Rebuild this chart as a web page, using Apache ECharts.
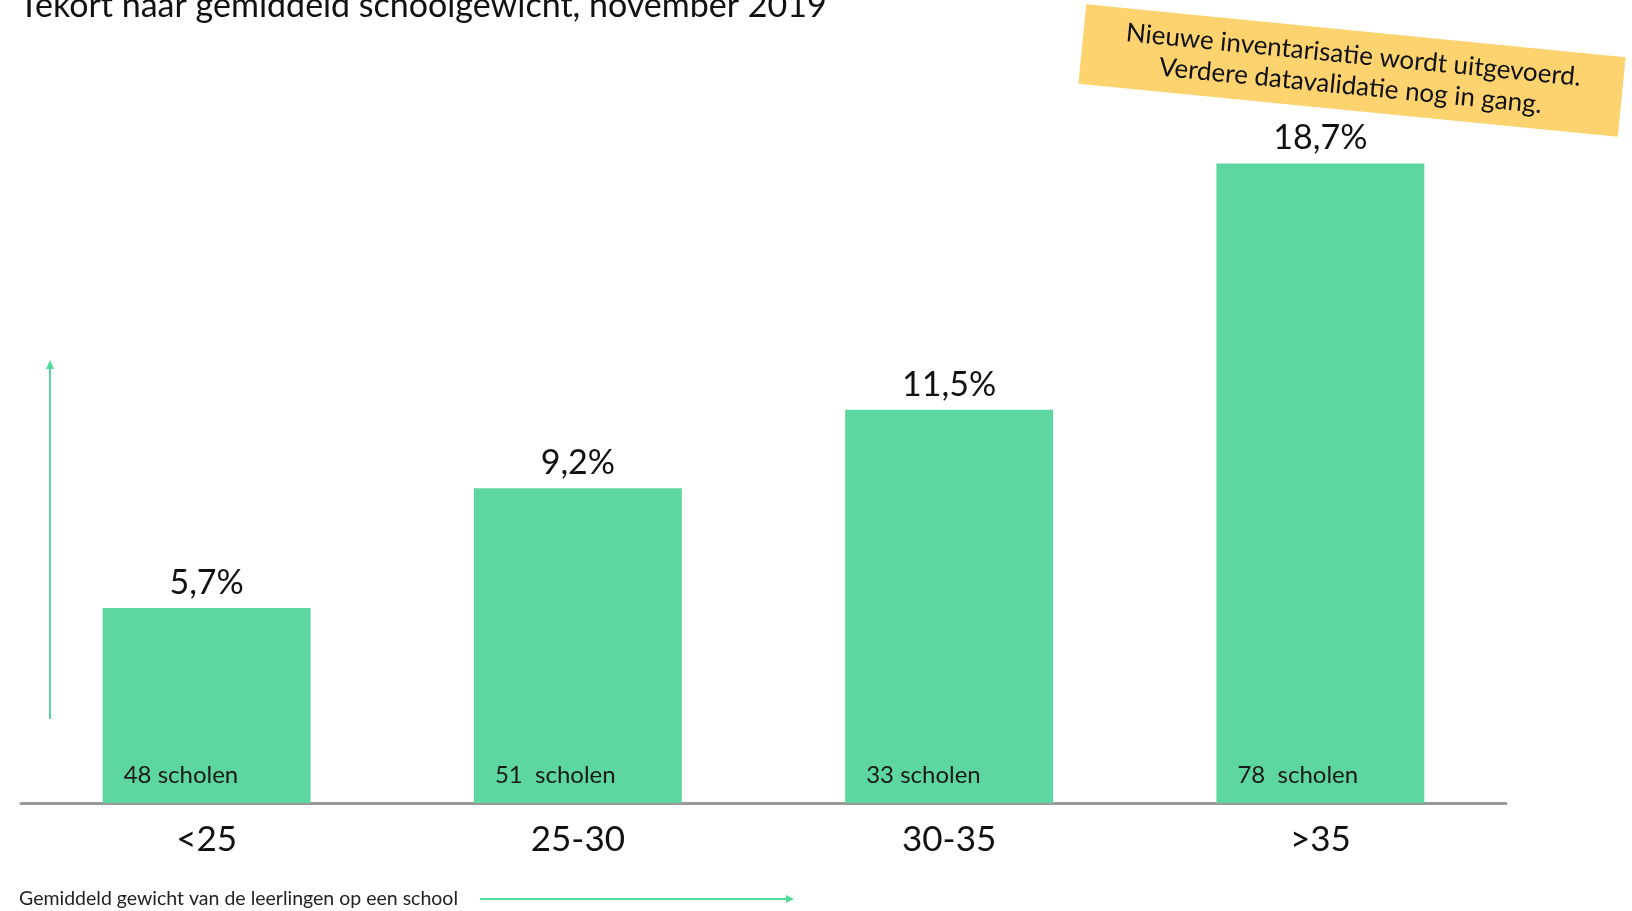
<!DOCTYPE html>
<html>
<head>
<meta charset="utf-8">
<script src="https://cdn.jsdelivr.net/npm/echarts@6/dist/echarts.min.js"></script>
<style>
html,body{margin:0;padding:0;background:#fff;}
#c{width:1632px;height:911px;}
</style>
</head>
<body>
<div id="c"></div>
<script>
var categories = ['<25', '25-30', '30-35', '>35'];
var shortagePct = [5.7, 9.2, 11.5, 18.7];
var schoolLabels = ['48 scholen', '51  scholen', '33 scholen', '78  scholen'];
var titleText = 'Tekort naar gemiddeld schoolgewicht, november 2019';
var noteLines = ['Nieuwe inventarisatie wordt uitgevoerd.', 'Verdere datavalidatie nog in gang.'];
var xAxisTitle = 'Gemiddeld gewicht van de leerlingen op een school';

var FONT = 'Lato, "Open Sans", sans-serif';
var GREEN = '#5dd79f';
var ARROW = '#4fdc9b';

var chart = echarts.init(document.getElementById('c'));
chart.setOption({
  animation: false,
  grid: { left: 21, right: 126, top: 119, bottom: 108 },
  xAxis: {
    type: 'category',
    data: categories,
    axisLine: { lineStyle: { color: '#999999', width: 3 } },
    axisTick: { show: false },
    axisLabel: { color: '#111', fontSize: 35, fontFamily: FONT, margin: 19 }
  },
  yAxis: {
    type: 'value', min: 0, max: 20, show: false, splitLine: { show: false }
  },
  series: [
    {
      type: 'bar',
      data: shortagePct,
      barCategoryGap: '44%',
      itemStyle: { color: GREEN },
      label: {
        show: true, position: 'top', distance: 8,
        color: '#111', fontSize: 34, fontFamily: FONT,
        formatter: function (p) { return String(p.value).replace('.', ',') + '%'; }
      }
    },
    {
      type: 'bar',
      data: shortagePct,
      barGap: '-100%',
      silent: true,
      itemStyle: { color: 'rgba(0,0,0,0)' },
      label: {
        show: true, position: 'insideBottomLeft', distance: 0, offset: [21, -16],
        color: '#1a1a1a', fontSize: 24, fontFamily: FONT,
        formatter: function (p) { return schoolLabels[p.dataIndex]; }
      }
    }
  ],
  graphic: [
    {
      type: 'text', left: 19, top: -11,
      style: { text: titleText, font: '34px ' + FONT, fill: '#111' }
    },
    {
      type: 'group', x: 1352, y: 70.5, rotation: -0.098,
      children: [
        { type: 'rect', shape: { x: -271, y: -40, width: 542, height: 80 }, style: { fill: '#fdd36f' } },
        { type: 'text', x: 0, y: 0, style: { text: noteLines.join('\n'), font: '26px ' + FONT, fill: '#111', align: 'center', verticalAlign: 'middle', lineHeight: 31 } }
      ]
    },
    {
      type: 'text', left: 19, top: 889,
      style: { text: xAxisTitle, font: '19.5px ' + FONT, fill: '#222' }
    },
    {
      type: 'line', shape: { x1: 480, y1: 899, x2: 787, y2: 899 },
      style: { stroke: ARROW, lineWidth: 2 }
    },
    {
      type: 'polygon', shape: { points: [[786, 895], [794, 899], [786, 903]] },
      style: { fill: ARROW }
    },
    {
      type: 'line', shape: { x1: 50, y1: 719, x2: 50, y2: 368 },
      style: { stroke: ARROW, lineWidth: 2 }
    },
    {
      type: 'polygon', shape: { points: [[46, 369], [50, 360], [54, 369]] },
      style: { fill: ARROW }
    }
  ]
});
</script>
</body>
</html>
